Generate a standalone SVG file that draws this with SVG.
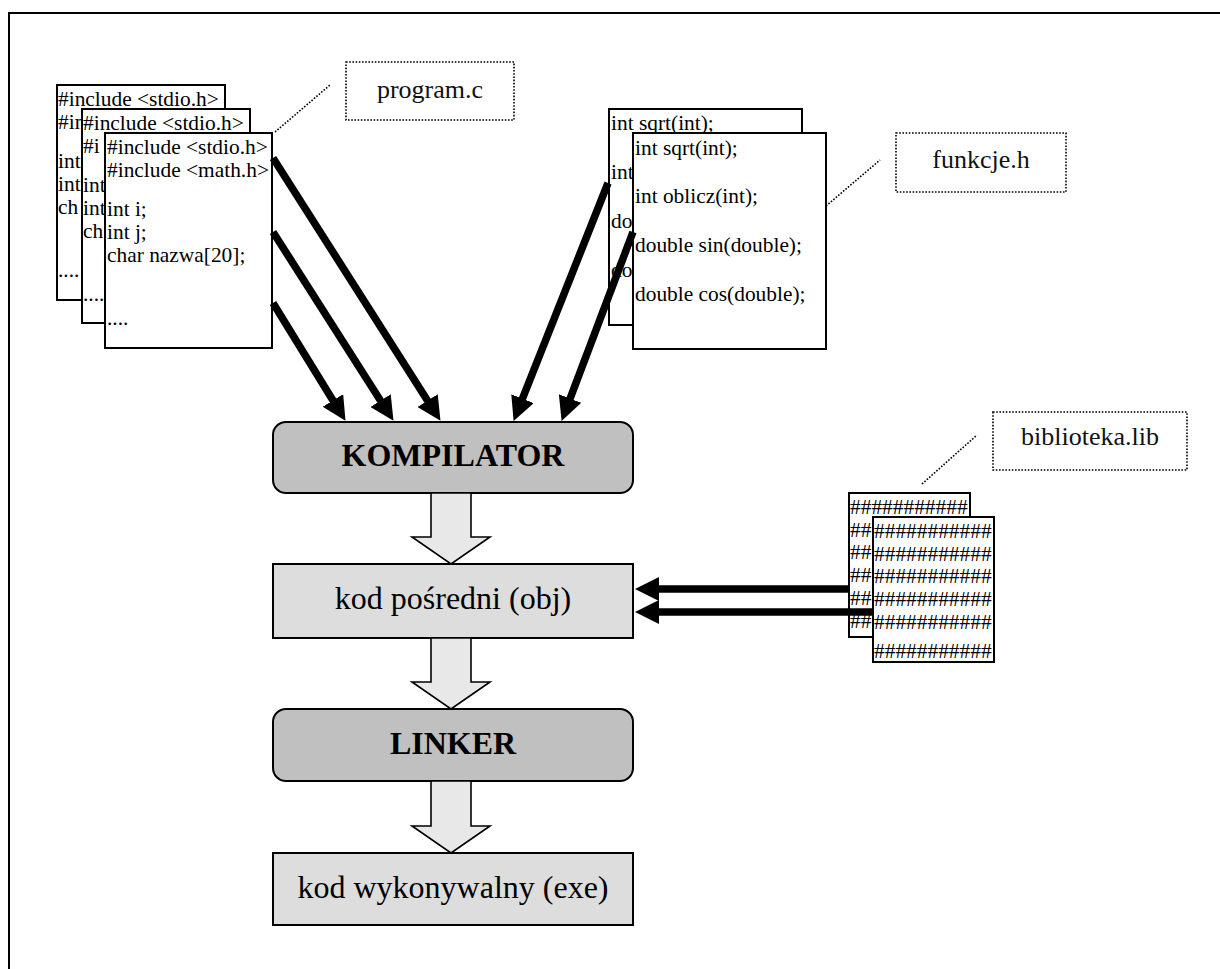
<svg xmlns="http://www.w3.org/2000/svg" width="1220" height="969" viewBox="0 0 1220 969">
<style>
.pg{fill:#fff;stroke:#000;stroke-width:2}
.t{font-family:"Liberation Serif","Times New Roman",serif;font-size:21.4px;fill:#000}
.lbl{font-family:"Liberation Serif","Times New Roman",serif;font-size:26px;fill:#111;text-anchor:middle}
.big{font-family:"Liberation Serif","Times New Roman",serif;font-size:32px;fill:#000;text-anchor:middle}
.bold{font-weight:bold}
.dot{fill:none;stroke:#000;stroke-width:1.6;stroke-dasharray:1.6 1.6}
.proc{fill:#c0c0c0;stroke:#000;stroke-width:2}
.data{fill:#dddddd;stroke:#000;stroke-width:2}
.blk{fill:#e8e8e8;stroke:#000;stroke-width:1.6;stroke-linejoin:miter}
.thick{stroke:#000;stroke-width:7.5;fill:none;marker-end:url(#ah)}
</style>
<defs>
<marker id="ah" markerUnits="userSpaceOnUse" markerWidth="26" markerHeight="26" refX="11" refY="12" orient="auto"><path d="M0,0 L24,12 L0,24 z" fill="#000"/></marker>
<clipPath id="cp1"><rect x="57" y="85" width="25" height="215"/><rect x="57" y="85" width="168" height="24"/></clipPath>
<clipPath id="cp2"><rect x="82" y="109" width="23" height="214"/><rect x="82" y="109" width="168" height="24"/></clipPath>
<clipPath id="cf1"><rect x="609" y="109" width="24" height="216"/><rect x="609" y="109" width="193" height="24"/></clipPath>
<clipPath id="cl1"><rect x="849" y="493" width="24" height="144"/><rect x="849" y="493" width="121" height="24"/></clipPath>
</defs>
<rect width="1220" height="969" fill="#fff"/>
<g id="frame"><path d="M9,969 V13 H1220" fill="none" stroke="#000" stroke-width="2"/></g>

<g id="program-c">
<rect class="pg" x="57" y="85" width="168" height="215"/>
<g clip-path="url(#cp1)">
<text class="t" x="58" y="106">#include &lt;stdio.h&gt;</text>
<text class="t" x="58" y="129">#in</text>
<text class="t" x="58" y="168">int</text>
<text class="t" x="58" y="191">int</text>
<text class="t" x="58" y="214">ch</text>
<text class="t" x="58" y="277">....</text>
</g>
<rect class="pg" x="82" y="109" width="168" height="214"/>
<g clip-path="url(#cp2)">
<text class="t" x="83" y="130">#include &lt;stdio.h&gt;</text>
<text class="t" x="83" y="153">#i</text>
<text class="t" x="83" y="192">int</text>
<text class="t" x="83" y="215">int</text>
<text class="t" x="83" y="238">ch</text>
<text class="t" x="83" y="301">....</text>
</g>
<rect class="pg" x="105" y="133" width="167" height="215"/>
<text class="t" x="107" y="154">#include &lt;stdio.h&gt;</text>
<text class="t" x="107" y="177">#include &lt;math.h&gt;</text>
<text class="t" x="107" y="216">int i;</text>
<text class="t" x="107" y="239">int j;</text>
<text class="t" x="107" y="262">char nazwa[20];</text>
<text class="t" x="107" y="325">....</text>
</g>

<g id="label-program">
<rect class="dot" x="346" y="62" width="168" height="58"/>
<line class="dot" x1="275" y1="132" x2="330" y2="85"/>
<text class="lbl" x="430" y="98">program.c</text>
</g>

<g id="funkcje-h">
<rect class="pg" x="609" y="109" width="193" height="216"/>
<g clip-path="url(#cf1)">
<text class="t" x="611" y="130">int sqrt(int);</text>
<text class="t" x="611" y="179">int</text>
<text class="t" x="611" y="228">do</text>
<text class="t" x="611" y="277">do</text>
</g>
<rect class="pg" x="633" y="133" width="193" height="216"/>
<text class="t" x="635" y="155">int sqrt(int);</text>
<text class="t" x="635" y="203">int oblicz(int);</text>
<text class="t" x="635" y="252">double sin(double);</text>
<text class="t" x="635" y="301">double cos(double);</text>
</g>

<g id="label-funkcje">
<rect class="dot" x="896" y="133" width="170" height="59"/>
<line class="dot" x1="826" y1="206" x2="880" y2="160"/>
<text class="lbl" x="981" y="168">funkcje.h</text>
</g>

<g id="biblioteka-lib">
<rect class="pg" x="849" y="493" width="121" height="144"/>
<g clip-path="url(#cl1)">
<text class="t" x="850" y="514">###########</text>
<text class="t" x="850" y="537">##</text>
<text class="t" x="850" y="559">##</text>
<text class="t" x="850" y="582">##</text>
<text class="t" x="850" y="605">##</text>
<text class="t" x="850" y="628">##</text>
</g>
<rect class="pg" x="873" y="517" width="121" height="145"/>
<text class="t" x="874" y="538">###########</text>
<text class="t" x="874" y="561">###########</text>
<text class="t" x="874" y="583">###########</text>
<text class="t" x="874" y="606">###########</text>
<text class="t" x="874" y="629">###########</text>
<text class="t" x="874" y="658">###########</text>
</g>

<g id="label-biblioteka">
<rect class="dot" x="993" y="412" width="194" height="58"/>
<line class="dot" x1="922" y1="484" x2="977" y2="435"/>
<text class="lbl" x="1090" y="445">biblioteka.lib</text>
</g>

<g id="kompilator">
<rect class="proc" x="273" y="422" width="360" height="71" rx="13"/>
<text class="big bold" x="453" y="466">KOMPILATOR</text>
</g>

<g id="kod-posredni">
<rect class="data" x="273" y="564" width="360" height="74"/>
<text class="big" x="453" y="609">kod pośredni (obj)</text>
</g>

<g id="linker">
<rect class="proc" x="273" y="709" width="360" height="72" rx="13"/>
<text class="big bold" x="453" y="754">LINKER</text>
</g>

<g id="kod-wykonywalny">
<rect class="data" x="273" y="853" width="360" height="72"/>
<text class="big" x="453" y="898">kod wykonywalny (exe)</text>
</g>

<g id="connectors">
<polygon class="blk" points="431,493 471,493 471,537 490,537 451,564 412,537 431,537"/>
<polygon class="blk" points="431,638 471,638 471,682 490,682 451,709 412,682 431,682"/>
<polygon class="blk" points="431,781 471,781 471,826 490,826 451,853 412,826 431,826"/>
<line class="thick" x1="273" y1="158" x2="433.5" y2="409.9"/>
<line class="thick" x1="273" y1="232" x2="386.5" y2="409.9"/>
<line class="thick" x1="273" y1="303" x2="338.7" y2="409.8"/>
<line class="thick" x1="608" y1="183" x2="518.4" y2="408.9"/>
<line class="thick" x1="633" y1="232" x2="566.2" y2="408.8"/>
<line class="thick" x1="849" y1="589" x2="648" y2="589"/>
<line class="thick" x1="873" y1="612" x2="648" y2="612"/>
</g>
</svg>
